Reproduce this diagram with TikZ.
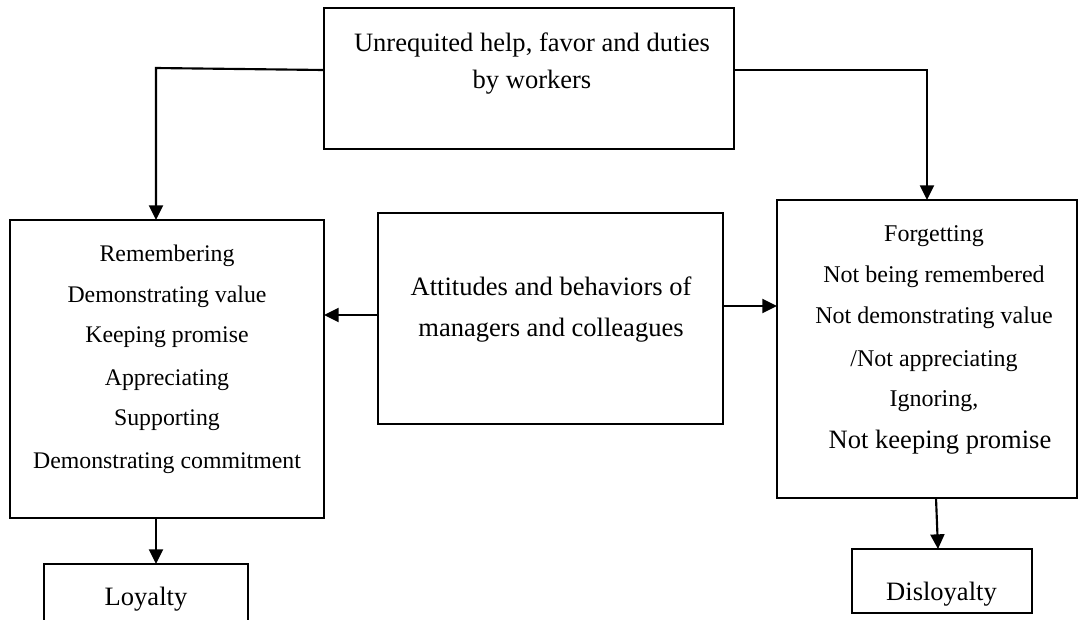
\documentclass[tikz,border=0pt]{standalone}
\usepackage{fontspec}
\setmainfont{Liberation Serif}
\usetikzlibrary{arrows.meta,calc}
\tikzset{
  boxnode/.style={draw,line width=1.3pt,inner sep=0pt,outer sep=0pt},
  txt/.style={anchor=base,inner sep=0pt,outer sep=0pt},
  big/.style={font=\fontsize{19.9pt}{22pt}\selectfont},
  mid/.style={font=\fontsize{18pt}{20pt}\selectfont},
  sml/.style={font=\fontsize{17.85pt}{20pt}\selectfont},
  conn/.style={line width=1.6pt,-{Triangle[length=11pt,width=10.5pt]}},
}
\begin{document}
\begin{tikzpicture}[x=0.75pt,y=-0.75pt]
\useasboundingbox (0,0) rectangle (1078,619);
\clip (0,0) rectangle (1078,619);
% boxes
\node[boxnode,minimum width=307.5pt,minimum height=105.75pt] (top) at (529,78.5) {};
\node[boxnode,minimum width=235.5pt,minimum height=223.5pt] (left) at (167,369) {};
\node[boxnode,minimum width=258.75pt,minimum height=158.25pt] (midbox) at (550.5,318.5) {};
\node[boxnode,minimum width=225pt,minimum height=223.5pt] (right) at (927,349) {};
\node[boxnode,minimum width=153pt,minimum height=57pt] (loyal) at (146,602) {};
\node[boxnode,minimum width=135pt,minimum height=48pt] (disloyal) at (942,581) {};
% texts
\node[txt,big] (t1) at (532,51) {Unrequited help, favor and duties};
\node[txt,big] (t2) at (532,88) {by workers};
\node[txt,sml] (l1) at (167,261) {Remembering};
\node[txt,sml] (l2) at (167,302) {Demonstrating value};
\node[txt,sml] (l3) at (167,342) {Keeping promise};
\node[txt,sml] (l4) at (167,385) {Appreciating};
\node[txt,sml] (l5) at (167,425) {Supporting};
\node[txt,sml] (l6) at (167,468) {Demonstrating commitment};
\node[txt,big] (m1) at (551,295) {Attitudes and behaviors of};
\node[txt,big] (m2) at (551,336) {managers and colleagues};
\node[txt,mid] (r1) at (934,241) {Forgetting};
\node[txt,mid] (r2) at (934,282) {Not being remembered};
\node[txt,mid] (r3) at (934,323) {Not demonstrating value};
\node[txt,mid] (r4) at (934,366) {/Not appreciating};
\node[txt,mid] (r5) at (934,406) {Ignoring,};
\node[txt,big] (r6) at (940,448) {Not keeping promise};
\node[txt,big] (lo) at (146,605) {Loyalty};
\node[txt,big] (dl) at (941.5,600) {Disloyalty};
% connectors
\coordinate (bendL) at (156,68);
\draw[conn] ($(top.north west)+(0,62)$) -- (bendL) -- (bendL |- left.north);
\draw[conn] ($(top.north east)+(0,62)$) -| (right.north);
\coordinate (ml) at ($(midbox.north west)+(0,102)$);
\draw[conn] (ml) -- (ml -| left.east);
\coordinate (mr) at ($(midbox.north east)+(0,93)$);
\draw[conn] (mr) -- (mr -| right.west);
\draw[conn] (bendL |- left.south) -- (bendL |- loyal.north);
\draw[conn] ($(right.south)+(9,0)$) -- ($(disloyal.north)+(-4,0)$);
\end{tikzpicture}
\end{document}
